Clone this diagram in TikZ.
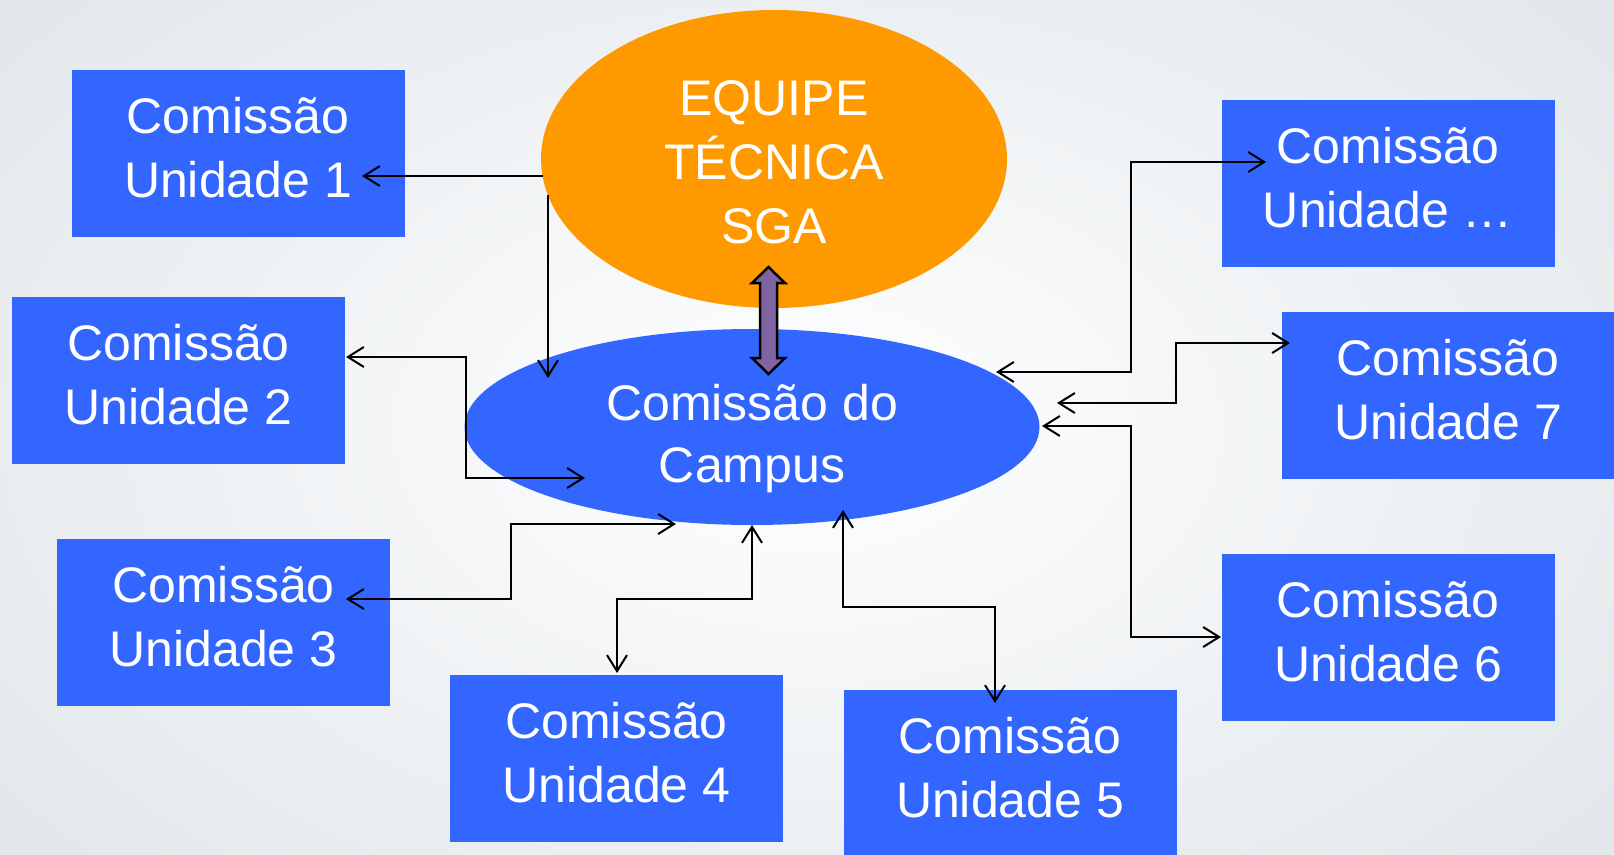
\documentclass[tikz,border=0pt]{standalone}
\usepackage{fontspec}
\setmainfont{Liberation Sans}
\usetikzlibrary{arrows.meta,shapes.geometric}
\definecolor{boxblue}{HTML}{3366FF}
\definecolor{eqorange}{HTML}{FF9900}
\definecolor{dblpurple}{HTML}{8064A2}
\definecolor{bgedge}{HTML}{E3E8EC}
\newcommand{\lowstrut}{\rule[-13pt]{0pt}{13pt}}
\tikzset{
  bigtext/.style={text=white, align=center, font=\fontsize{50}{64}\selectfont},
  unitbox/.style={bigtext, rectangle, fill=boxblue, minimum width=333pt, minimum height=167pt, inner sep=0pt},
  bubble/.style={bigtext, ellipse, inner sep=0pt},
  barb/.tip={Straight Barb[length=16pt,width=20pt]},
  oneway/.style={line width=2pt, -barb},
  twoway/.style={line width=2pt, barb-barb, line join=miter},
  bigarrow/.style={fill=dblpurple, draw=black, line width=2.5pt, line join=miter}
}
\begin{document}
\begin{tikzpicture}[x=1pt, y=-1pt]
\useasboundingbox (0,0) rectangle (1614,854);
\shade[inner color=white, outer color=bgedge] (-200,-200) rectangle (1814,1054);

% boxes
\node[unitbox] (u1) at (238,153.5) {Comissão\\Unidade 1\lowstrut};
\node[unitbox] (u2) at (178.5,380.5) {Comissão\\Unidade 2\lowstrut};
\node[unitbox] (u3) at (223.5,622.5) {Comissão\\Unidade 3\lowstrut};
\node[unitbox] (u4) at (616.5,758.5) {Comissão\\Unidade 4\lowstrut};
\node[unitbox] (u5) at (1010,773.5) {Comissão\\Unidade 5\lowstrut};
\node[unitbox] (u6) at (1388,637.5) {Comissão\\Unidade 6\lowstrut};
\node[unitbox] (u7) at (1448,395.5) {Comissão\\Unidade 7\lowstrut};
\node[unitbox] (ux) at (1388,183.5) {Comissão\\Unidade …\lowstrut};

% ellipses
\node[bubble, fill=eqorange, minimum width=466pt, minimum height=298pt] (eq) at (774,159)
  {\rule{0pt}{41pt}EQUIPE\\TÉCNICA\\SGA};
\node[bubble, fill=boxblue, minimum width=575pt, minimum height=196pt,
  font=\fontsize{50}{62}\selectfont] (cc) at (752,427)
  {\rule{0pt}{59pt}Comissão do\\Campus};

% connector end points
\coordinate (a1) at (543,176);  \coordinate (z1) at (362,176);
\coordinate (a2) at (548,195);  \coordinate (z2) at (548,378);
\coordinate (a3) at (346,357);  \coordinate (k3) at (466,420); \coordinate (z3) at (585,478);
\coordinate (a4) at (346,599);  \coordinate (k4) at (511,560); \coordinate (z4) at (676,524);
\coordinate (a5) at (752,525);  \coordinate (k5) at (680,599); \coordinate (z5) at (617,673);
\coordinate (a6) at (843,510);  \coordinate (k6) at (920,607); \coordinate (z6) at (995,703);
\coordinate (a7) at (1266,162); \coordinate (k7) at (1131,260); \coordinate (z7) at (996,372);
\coordinate (a8) at (1290,343); \coordinate (k8) at (1176,370); \coordinate (z8) at (1057,403);
\coordinate (a9) at (1042,426); \coordinate (k9) at (1131,530); \coordinate (z9) at (1221,637);

\draw[oneway] (a1) -- (z1);
\draw[oneway] (a2) -- (z2);
\draw[twoway] (a3) -| (k3) |- (z3);
\draw[twoway] (a4) -| (k4) |- (z4);
\draw[twoway] (a5) |- (k5) -| (z5);
\draw[twoway] (a6) |- (k6) -| (z6);
\draw[twoway] (a7) -| (k7) |- (z7);
\draw[twoway] (a8) -| (k8) |- (z8);
\draw[twoway] (a9) -| (k9) |- (z9);

% purple double arrow between the two ellipses
\draw[bigarrow] (768.5,267) -- (785,283) -- (777,283) -- (777,358) -- (785,358) -- (768.5,374)
  -- (752,358) -- (760,358) -- (760,283) -- (752,283) -- cycle;
\end{tikzpicture}
\end{document}
